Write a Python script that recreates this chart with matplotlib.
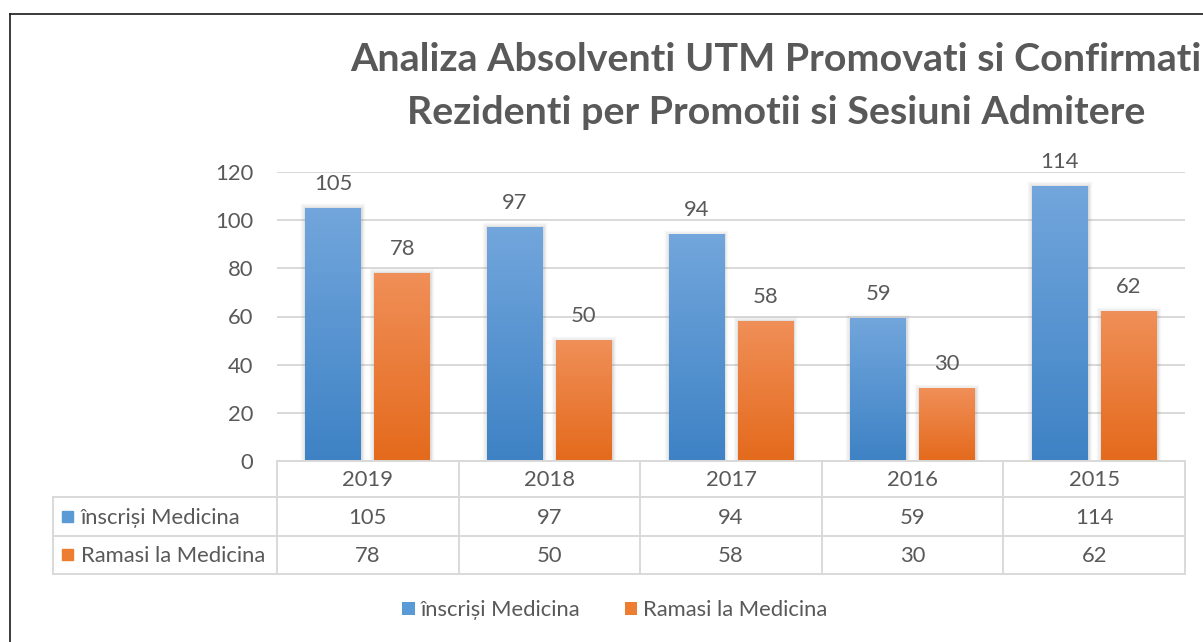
import numpy as np
import matplotlib
matplotlib.use("Agg")
import matplotlib.pyplot as plt
from matplotlib.lines import Line2D
from matplotlib.patches import Patch
from matplotlib.colors import LinearSegmentedColormap
import matplotlib.patheffects as pe

# ---- data ----
categories = ["2019", "2018", "2017", "2016", "2015"]
inscrisi = [105, 97, 94, 59, 114]
ramasi = [78, 50, 58, 30, 62]
series_names = ["înscriși Medicina", "Ramasi la Medicina"]
yticks = [0, 20, 40, 60, 80, 100, 120]
title_text = "Analiza Absolventi UTM Promovati si Confirmati\nRezidenti per Promotii si Sesiuni Admitere"

W, H = 1203, 642
plt.rcParams['font.family'] = ['Lato', 'DejaVu Sans']
TXT = "#595959"
GRID = "#D9D9D9"
BLUE_TOP, BLUE_BOT, BLUE = "#72A6DC", "#3E82C5", "#5B9BD5"
OR_TOP, OR_BOT, OR = "#F08F58", "#E46A1C", "#ED7D31"
FS = 15.8

def fx(x):
    return x / W

def fy(y):
    return 1 - y / H

fig = plt.figure(figsize=(W / 100, H / 100), dpi=100)
fig.patch.set_facecolor("white")

# outer frame (extends beyond the image to the right and bottom)
fig.add_artist(Line2D([fx(10), fx(10)], [fy(14), fy(700)], color="#1a1a1a", lw=1.2, transform=fig.transFigure))
fig.add_artist(Line2D([fx(10), fx(1250)], [fy(14), fy(14)], color="#1a1a1a", lw=1.2, transform=fig.transFigure))

# title
fig.text(fx(776), fy(86), title_text, ha="center", va="center", fontsize=28.4,
         fontweight="bold", color=TXT, linespacing=1.6)

ax = fig.add_axes([fx(277), fy(461), fx(1185 - 277), (461 - 172) / H])
ax.set_xlim(-0.5, len(categories) - 0.5)
ax.set_ylim(0, 120)
for s in ax.spines.values():
    s.set_visible(False)
ax.set_yticks(yticks)
ax.set_yticklabels([str(t) for t in yticks], fontsize=FS, color=TXT)
ax.tick_params(axis="y", length=0, pad=17)
ax.set_xticks([])
ax.yaxis.grid(True, color=GRID, lw=1.4)
ax.set_axisbelow(True)

x = np.arange(len(categories))
bw = 0.308
off = 0.19

def grad_bars(xs, vals, ctop, cbot):
    bars = ax.bar(xs, vals, bw, color="none", edgecolor="none", linewidth=0, zorder=2)
    cmap = LinearSegmentedColormap.from_list("g", [cbot, ctop])
    arr = np.linspace(0, 1, 256)[:, None]
    for b in bars:
        x0, w, h = b.get_x(), b.get_width(), b.get_height()
        sh = ax.bar(x0 + w / 2, h, w, facecolor=cbot, edgecolor="none", linewidth=0, zorder=2.5)
        sh[0].set_path_effects([
            pe.Stroke(linewidth=6, foreground="#808080", alpha=0.06),
            pe.Stroke(linewidth=4, foreground="#808080", alpha=0.08),
            pe.Stroke(linewidth=2, foreground="#808080", alpha=0.12),
            pe.Normal()])
        ax.imshow(arr, extent=[x0, x0 + w, 0, h], origin="lower", cmap=cmap,
                  aspect="auto", zorder=3, interpolation="bilinear")
    return bars

grad_bars(x - off, inscrisi, BLUE_TOP, BLUE_BOT)
grad_bars(x + off, ramasi, OR_TOP, OR_BOT)
ax.set_xlim(-0.5, len(categories) - 0.5)
ax.set_ylim(0, 120)

for xi, v in zip(x - off, inscrisi):
    ax.annotate(str(v), (xi, v), xytext=(0, 17.6), textcoords="offset points",
                ha="center", va="center", fontsize=FS, color=TXT)
for xi, v in zip(x + off, ramasi):
    ax.annotate(str(v), (xi, v), xytext=(0, 17.6), textcoords="offset points",
                ha="center", va="center", fontsize=FS, color=TXT)

# ---- data table ----
fig.canvas.draw()
def data_to_px(xd):
    disp = ax.transData.transform((xd, 0))[0]
    return disp * W / fig.bbox.width

bounds = [data_to_px(b) for b in np.arange(-0.5, len(categories))]
centers = [data_to_px(c) for c in x]
row_top, row_h1, row_r1, row_r2 = 461, 497, 536, 574
left_x = 53

def hline(x0, x1, y):
    fig.add_artist(Line2D([fx(x0), fx(x1)], [fy(y), fy(y)], color=GRID, lw=1.4, transform=fig.transFigure, zorder=5))

def vline(xp, y0, y1):
    fig.add_artist(Line2D([fx(xp), fx(xp)], [fy(y0), fy(y1)], color=GRID, lw=1.4, transform=fig.transFigure, zorder=5))

hline(bounds[0], bounds[-1], row_top)
for y in (row_h1, row_r1, row_r2):
    hline(left_x, bounds[-1], y)
for b in bounds:
    vline(b, row_top, row_r2)
vline(left_x, row_h1, row_r2)

for c, cat in zip(centers, categories):
    fig.text(fx(c), fy((row_top + row_h1) / 2 + 1), cat, ha="center", va="center", fontsize=FS, color=TXT)
for row_vals, (y0, y1) in zip([inscrisi, ramasi], [(row_h1, row_r1), (row_r1, row_r2)]):
    for c, v in zip(centers, row_vals):
        fig.text(fx(c), fy((y0 + y1) / 2 + 1), str(v), ha="center", va="center", fontsize=FS, color=TXT)

for name, col, (y0, y1) in zip(series_names, [BLUE, OR], [(row_h1, row_r1), (row_r1, row_r2)]):
    yc = (y0 + y1) / 2
    fig.patches.append(plt.Rectangle((fx(62), fy(yc + 5)), fx(11), 11 / H, color=col, transform=fig.transFigure))
    fig.text(fx(81), fy(yc + 1), name, ha="left", va="center", fontsize=FS, color=TXT)

# ---- legend ----
handles = [Patch(facecolor=BLUE, edgecolor="none"), Patch(facecolor=OR, edgecolor="none")]
fig.legend(handles, series_names, loc="center", bbox_to_anchor=(fx(615), fy(610)), ncol=2,
           frameon=False, fontsize=FS, labelcolor=TXT, handlelength=0.55, handleheight=0.55,
           handletextpad=0.3, columnspacing=2.0)

fig.savefig("out.png", dpi=100, facecolor="white")
